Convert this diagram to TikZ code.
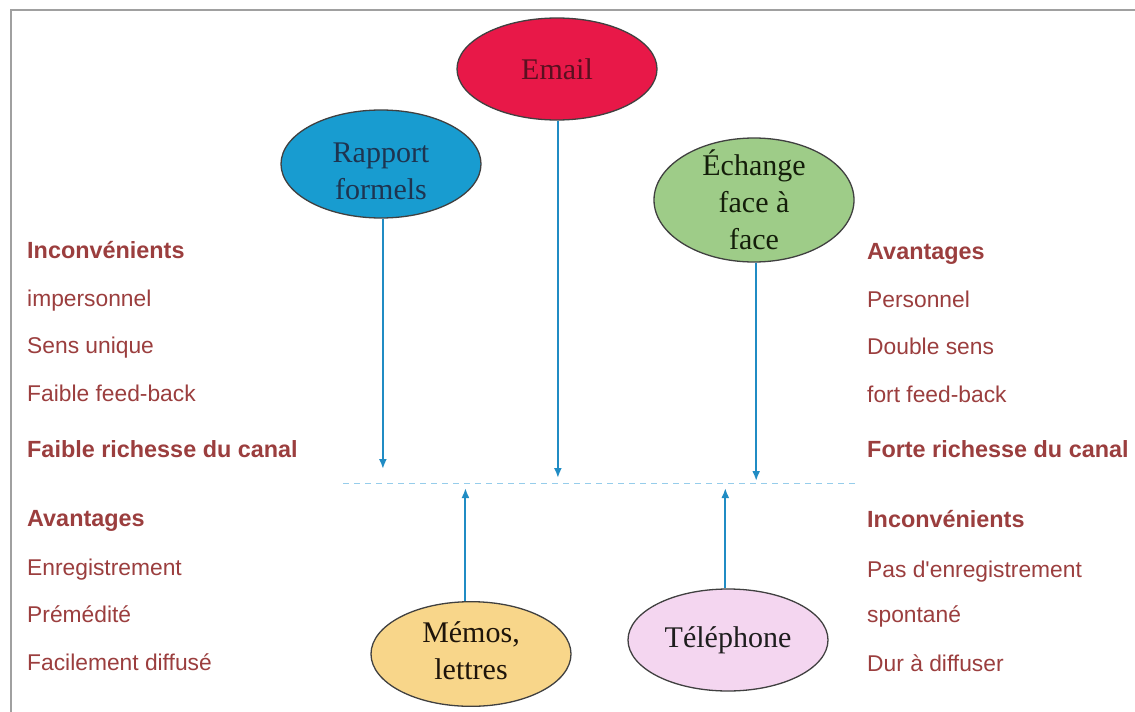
\documentclass[tikz,border=0pt]{standalone}
\usepackage{fontspec}
\setmainfont{Liberation Serif}
\newfontfamily\sidefont{Liberation Sans}
\usetikzlibrary{shapes.geometric,arrows.meta}
\definecolor{sidetxt}{RGB}{155,62,62}
\definecolor{arrblue}{RGB}{32,140,196}
\definecolor{dashblue}{RGB}{150,205,235}
\definecolor{emailfill}{RGB}{232,24,72}
\definecolor{rapfill}{RGB}{24,156,208}
\definecolor{echfill}{RGB}{158,204,136}
\definecolor{memfill}{RGB}{248,214,138}
\definecolor{telfill}{RGB}{244,214,240}
\definecolor{framegray}{RGB}{160,160,160}
\tikzset{
  oval/.style={ellipse, draw=black!75, line width=1.3pt, inner sep=0pt, minimum width=200pt,
    align=center, font=\fontsize{30}{37}\selectfont},
  side/.style={anchor=base west, inner sep=0pt, text=sidetxt, font=\sidefont\fontsize{22.8}{27}\selectfont},
  sidebold/.style={side, font=\sidefont\bfseries\fontsize{23.4}{27}\selectfont},
  arr/.style={draw=arrblue, line width=2pt, -{Latex[length=10pt,width=8pt]}},
  dashln/.style={draw=dashblue, line width=1pt, dash pattern=on 6pt off 5pt},
}
\begin{document}
\begin{tikzpicture}[x=1pt,y=-1pt]
\useasboundingbox (0,0) rectangle (1135,712);
\fill[white] (0,0) rectangle (1135,712);
% frame
\coordinate (ftl) at (11,10);
\coordinate (ftr) at (1135,10);
\coordinate (fbl) at (11,712);
\draw[framegray, line width=1.6pt] (fbl) -- (ftl) -- (ftr);

% ellipses
\node[oval, fill=emailfill, minimum height=102pt, text={rgb,255:red,90;green,16;blue,32}] (email) at (557,69) {Email};
\node[oval, fill=rapfill, minimum height=108pt,
  label={[align=center, inner sep=0pt, font=\fontsize{30}{37}\selectfont, text={rgb,255:red,30;green,52;blue,80}, yshift=-7pt]center:Rapport\\formels}] (rap) at (381,164) {};
\node[oval, fill=echfill, minimum height=124pt, inner ysep=-10pt, text={rgb,255:red,20;green,30;blue,10}] (ech) at (754,200) {Échange\\face à\\face};
\node[oval, fill=memfill, minimum height=100pt, text={rgb,255:red,30;green,20;blue,10}] (mem) at (471,654) {\raisebox{-6pt}{\begin{tabular}{@{}c@{}}Mémos,\\lettres\end{tabular}}};
\node[oval, fill=telfill, minimum height=102pt, text={rgb,255:red,30;green,30;blue,30}] (tel) at (728,640) {Téléphone};

% dashed line
\coordinate (dl) at (343,483);
\coordinate (dr) at (855,483);
\draw[dashln] (dl) -- (dr);

% arrow end points
\coordinate (rapE) at (385,469);
\coordinate (emailE) at (561,478);
\coordinate (echE) at (758,481);
\coordinate (memE) at (465,488);
\coordinate (telE) at (723,488);

\draw[arr] (rap.272) -- (rap.272 |- rapE);
\draw[arr] (email.271) -- (email.271 |- emailE);
\draw[arr] (ech.272) -- (ech.272 |- echE);
\draw[arr] (mem.96) -- (mem.96 |- memE);
\draw[arr] (tel.93) -- (tel.93 |- telE);

% left texts
\node[sidebold] (l1) at (27,258) {Inconvénients};
\node[side] (l2) at (27,306) {impersonnel};
\node[side] (l3) at (27,353) {Sens unique};
\node[side] (l4) at (27,401) {Faible feed-back};
\node[sidebold] (l5) at (27,457) {Faible richesse du canal};
\node[sidebold] (l6) at (27,526) {Avantages};
\node[side] (l7) at (27,575) {Enregistrement};
\node[side] (l8) at (27,622) {Prémédité};
\node[side] (l9) at (27,670) {Facilement diffusé};

% right texts
\node[sidebold] (r1) at (867,259) {Avantages};
\node[side] (r2) at (867,307) {Personnel};
\node[side] (r3) at (867,354) {Double sens};
\node[side] (r4) at (867,402) {fort feed-back};
\node[sidebold] (r5) at (867,457) {Forte richesse du canal};
\node[sidebold] (r6) at (867,527) {Inconvénients};
\node[side] (r7) at (867,577) {Pas d'enregistrement};
\node[side] (r8) at (867,622) {spontané};
\node[side] (r9) at (867,671) {Dur à diffuser};
\end{tikzpicture}
\end{document}
